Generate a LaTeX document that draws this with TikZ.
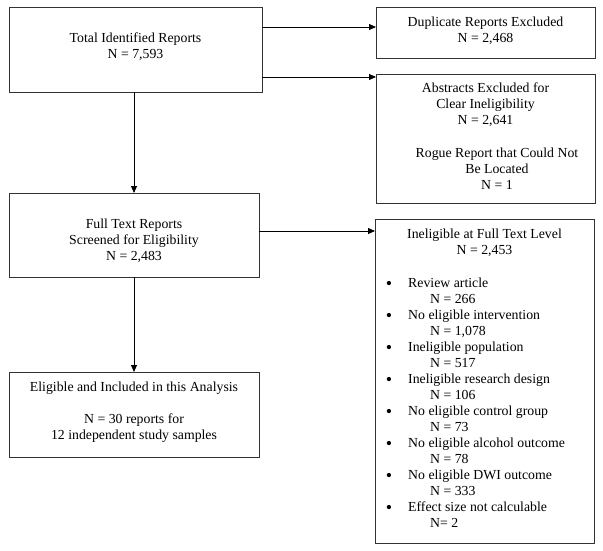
\documentclass[tikz,border=0pt]{standalone}
\usepackage{fontspec}
\setmainfont{Liberation Serif}
\usetikzlibrary{arrows.meta}
\begin{document}
\begin{tikzpicture}[x=1pt,y=-1pt,
  box/.style={draw=black!80, line width=0.8pt, inner sep=0pt, outer sep=0pt, anchor=north west},
  txt/.style={align=center, font=\fontsize{13.8pt}{15.9pt}\selectfont, inner sep=0pt, yshift=-2pt},
  line/.style={font=\fontsize{13.8pt}{15.9pt}\selectfont, inner sep=0pt, anchor=west, text height=9.2pt, text depth=0pt, yshift=-0.8pt},
  bul/.style={font=\fontsize{18pt}{18pt}\selectfont, inner sep=0pt, anchor=base},
  arr/.style={draw=black, line width=0.9pt, -{Triangle[length=7pt,width=6pt]}}]
\useasboundingbox (0,0) rectangle (603,550);
% boxes
\node[box, minimum width=253pt, minimum height=85pt] (b1) at (9,7) {};
\node[box, minimum width=219pt, minimum height=51pt] (dup) at (376,7) {};
\node[box, minimum width=219pt, minimum height=129pt] (abs) at (376,74) {};
\node[box, minimum width=250pt, minimum height=84pt] (b2) at (9,193) {};
\node[box, minimum width=219pt, minimum height=324pt] (inel) at (375,219) {};
\node[box, minimum width=250pt, minimum height=85pt] (b3) at (9,372) {};
% texts
\node[txt] (t1) at (135.5,45) {Total Identified Reports\\N = 7,593};
\node[txt] (t2) at (485.5,28.5) {Duplicate Reports Excluded\\N = 2,468};
\node[txt] (t3) at (485.5,103) {Abstracts Excluded for\\Clear Ineligibility\\N = 2,641};
\node[txt] (t4) at (497,167) {Rogue Report that Could Not\\Be Located\\N = 1};
\node[txt] (t5) at (134,238.5) {Full Text Reports\\Screened for Eligibility\\N = 2,483};
\node[txt] (t6) at (134,386) {Eligible and Included in this Analysis};
\node[txt] (t7) at (134,426) {N = 30 reports for\\12 independent study samples};
\node[txt] (t8) at (484.5,241) {Ineligible at Full Text Level\\N = 2,453};
% bullet list
\foreach \lab/\n [count=\i from 0] in {Review article/N = 266,
  No eligible intervention/N = 1{,}078,
  Ineligible population/N = 517,
  Ineligible research design/N = 106,
  No eligible control group/N = 73,
  No eligible alcohol outcome/N = 78,
  No eligible DWI outcome/N = 333,
  Effect size not calculable/N= 2}{
  \node[bul] (bu\i) at (389,289.5+32.04*\i) {•};
  \node[line] (it\i) at (408,281.7+32.04*\i) {\lab};
  \node[line] (nn\i) at (430,297.7+32.04*\i) {\n};
}
% connectors
\coordinate (y1) at (0,27);
\coordinate (y2) at (0,77);
\coordinate (y3) at (0,231);
\draw[arr] (b1.east |- y1) -- (dup.west |- y1);
\draw[arr] (b1.east |- y2) -- (abs.west |- y2);
\draw[arr] (b2.east |- y3) -- (inel.west |- y3);
\draw[arr] (b2.north |- b1.south) -- (b2.north);
\draw[arr] (b2.south) -- (b3.north);
\end{tikzpicture}
\end{document}
